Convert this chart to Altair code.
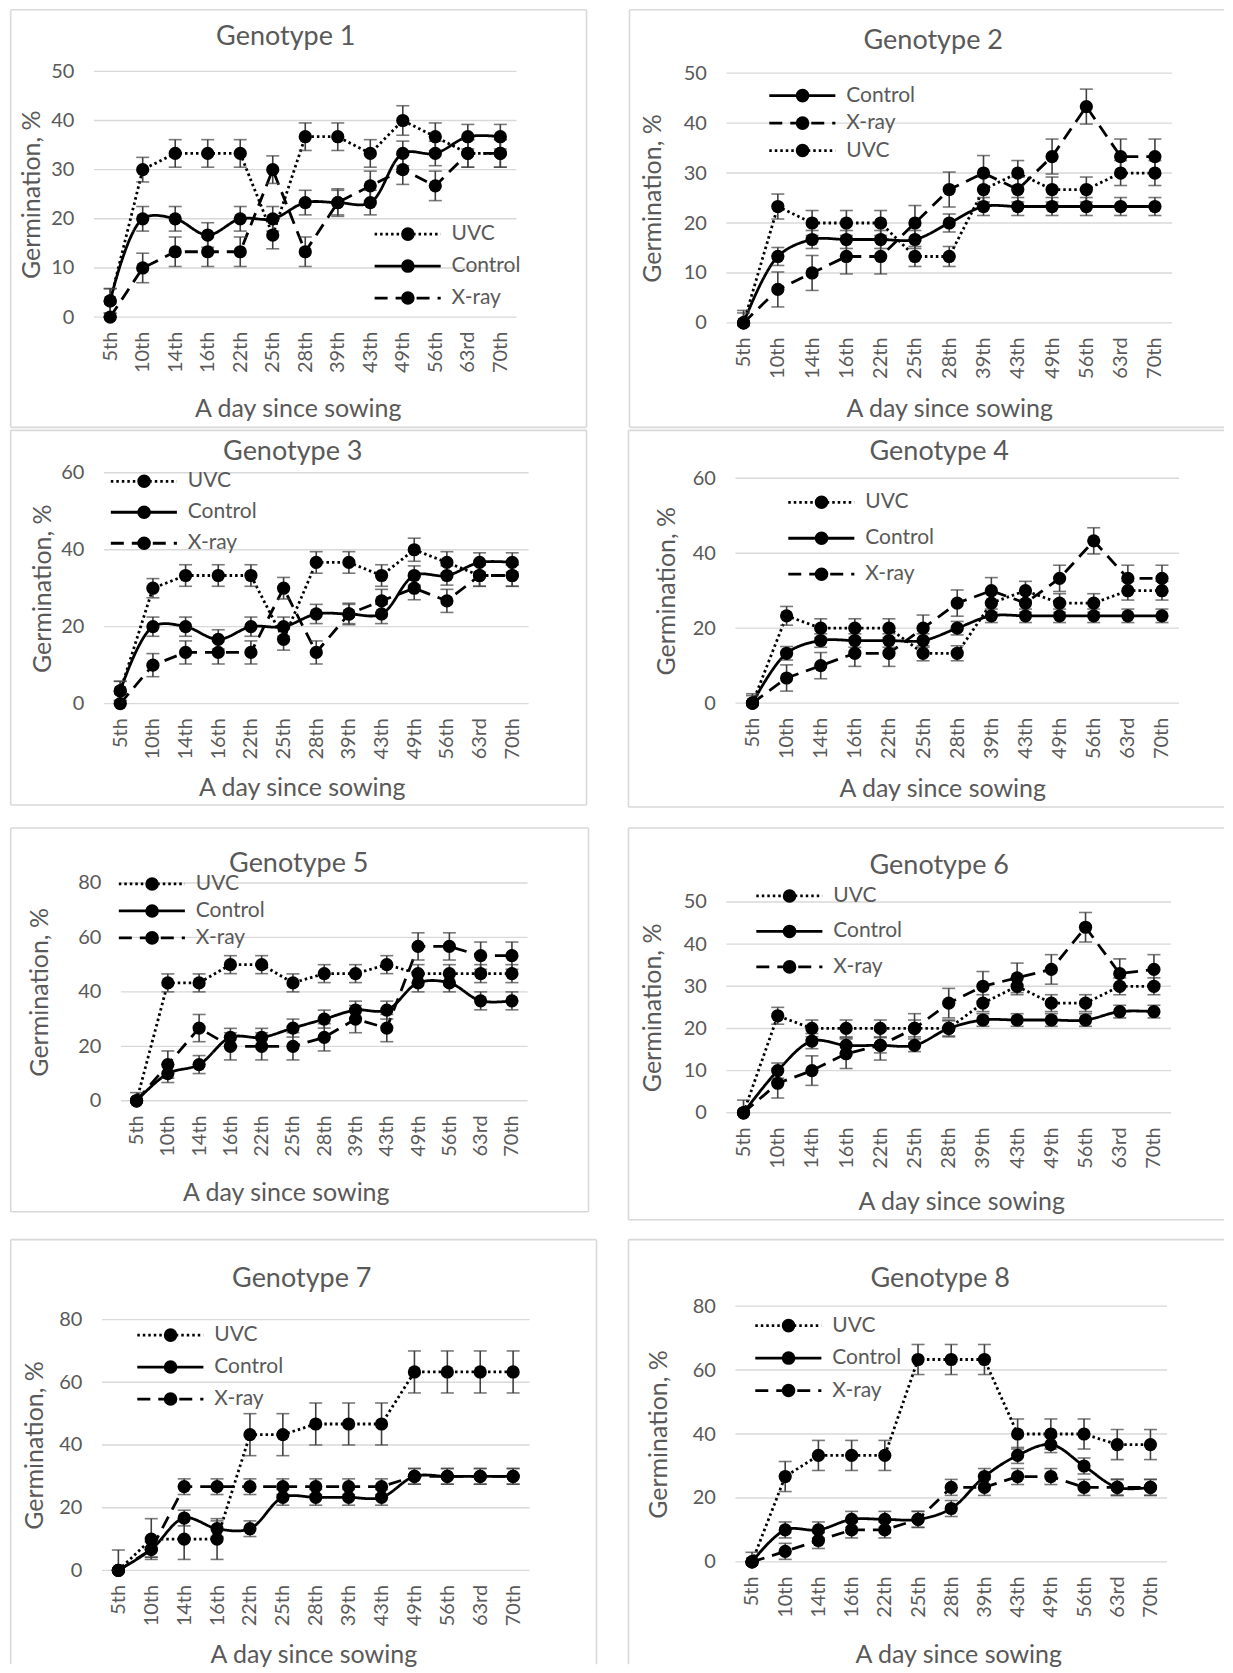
import math
import altair as alt
import pandas as pd

FONT = "Lato"
TXT = "#595959"
GRID = "#d9d9d9"

DAYS = ["5th", "10th", "14th", "16th", "22th", "25th", "28th", "39th", "43th", "49th", "56th", "63rd", "70th"]

# ---- Genotype 1 ----
G1_UVC = [3.3, 30, 33.3, 33.3, 33.3, 16.7, 36.7, 36.7, 33.3, 40, 36.7, 33.3, 33.3]
G1_CONTROL = [3.3, 20, 20, 16.7, 20, 20, 23.3, 23.3, 23.3, 33.3, 33.3, 36.7, 36.7]
G1_XRAY = [0, 10, 13.3, 13.3, 13.3, 30, 13.3, 23.3, 26.7, 30, 26.7, 33.3, 33.3]
G1_ERR_UVC = [2.5, 2.5, 2.8, 2.8, 2.8, 2.8, 2.8, 2.8, 2.8, 3.0, 2.8, 2.8, 2.8]
G1_ERR_CONTROL = [2.5, 2.5, 2.5, 2.5, 2.5, 2.5, 2.5, 2.5, 2.5, 2.5, 2.5, 2.5, 2.5]
G1_ERR_XRAY = [0, 3, 3, 3, 3, 2.8, 3, 2.8, 3, 3, 3, 2.8, 2.8]

# ---- Genotype 2 ----
G2_UVC = [0, 23.3, 20, 20, 20, 13.3, 13.3, 26.7, 30, 26.7, 26.7, 30, 30]
G2_CONTROL = [0, 13.3, 16.7, 16.7, 16.7, 16.7, 20, 23.3, 23.3, 23.3, 23.3, 23.3, 23.3]
G2_XRAY = [0, 6.7, 10, 13.3, 13.3, 20, 26.7, 30, 26.7, 33.3, 43.3, 33.3, 33.3]
G2_ERR_UVC = [2.5, 2.5, 2.5, 2.5, 2.5, 2, 2, 2.5, 2.5, 2.5, 2.5, 2.5, 2.5]
G2_ERR_CONTROL = [2, 1.8, 1.8, 1.8, 1.8, 1.8, 1.8, 1.8, 1.8, 1.8, 1.8, 1.8, 1.8]
G2_ERR_XRAY = [0, 3.5, 3.5, 3.5, 3.5, 3.5, 3.5, 3.5, 2.5, 3.5, 3.5, 3.5, 3.5]

# ---- Genotype 3 ----
G3_UVC = [3.3, 30, 33.3, 33.3, 33.3, 16.7, 36.7, 36.7, 33.3, 40, 36.7, 33.3, 33.3]
G3_CONTROL = [3.3, 20, 20, 16.7, 20, 20, 23.3, 23.3, 23.3, 33.3, 33.3, 36.7, 36.7]
G3_XRAY = [0, 10, 13.3, 13.3, 13.3, 30, 13.3, 23.3, 26.7, 30, 26.7, 33.3, 33.3]
G3_ERR_UVC = [2.5, 2.5, 2.8, 2.8, 2.8, 2.8, 2.8, 2.8, 2.8, 3.0, 2.8, 2.8, 2.8]
G3_ERR_CONTROL = [2.5, 2.5, 2.5, 2.5, 2.5, 2.5, 2.5, 2.5, 2.5, 2.5, 2.5, 2.5, 2.5]
G3_ERR_XRAY = [0, 3, 3, 3, 3, 2.8, 3, 2.8, 3, 3, 3, 2.8, 2.8]

# ---- Genotype 4 ----
G4_UVC = [0, 23.3, 20, 20, 20, 13.3, 13.3, 26.7, 30, 26.7, 26.7, 30, 30]
G4_CONTROL = [0, 13.3, 16.7, 16.7, 16.7, 16.7, 20, 23.3, 23.3, 23.3, 23.3, 23.3, 23.3]
G4_XRAY = [0, 6.7, 10, 13.3, 13.3, 20, 26.7, 30, 26.7, 33.3, 43.3, 33.3, 33.3]
G4_ERR_UVC = [2.5, 2.5, 2.5, 2.5, 2.5, 2, 2, 2.5, 2.5, 2.5, 2.5, 2.5, 2.5]
G4_ERR_CONTROL = [2, 1.8, 1.8, 1.8, 1.8, 1.8, 1.8, 1.8, 1.8, 1.8, 1.8, 1.8, 1.8]
G4_ERR_XRAY = [0, 3.5, 3.5, 3.5, 3.5, 3.5, 3.5, 3.5, 2.5, 3.5, 3.5, 3.5, 3.5]

# ---- Genotype 5 ----
G5_UVC = [0, 43.3, 43.3, 50, 50, 43.3, 46.7, 46.7, 50, 46.7, 46.7, 46.7, 46.7]
G5_CONTROL = [0, 10, 13.3, 23.3, 23.3, 26.7, 30, 33.3, 33.3, 43.3, 43.3, 36.7, 36.7]
G5_XRAY = [0, 13.3, 26.7, 20, 20, 20, 23.3, 30, 26.7, 56.7, 56.7, 53.3, 53.3]
G5_ERR_UVC = [3, 3.3, 3.3, 3.3, 3.3, 3.3, 3.3, 3.3, 3.3, 3.3, 3.3, 3.3, 3.3]
G5_ERR_CONTROL = [0, 3.3, 3.3, 3.3, 3.3, 3.3, 3.3, 3.3, 3.3, 3.3, 3.3, 3.3, 3.3]
G5_ERR_XRAY = [0, 5, 5, 5, 5, 5, 5, 5, 5, 5, 5, 5, 5]

# ---- Genotype 6 ----
G6_UVC = [0, 23, 20, 20, 20, 20, 20, 26, 30, 26, 26, 30, 30]
G6_CONTROL = [0, 10, 17, 16, 16, 16, 20, 22, 22, 22, 22, 24, 24]
G6_XRAY = [0, 7, 10, 14, 16, 20, 26, 30, 32, 34, 44, 33, 34]
G6_ERR_UVC = [3, 2, 2, 2, 2, 2, 2, 2, 2, 2, 2, 2, 2]
G6_ERR_CONTROL = [0, 1.8, 1.8, 1.8, 1.8, 1.5, 1.8, 1.5, 1.5, 1.5, 1.5, 1.5, 1.5]
G6_ERR_XRAY = [0, 3.5, 3.5, 3.5, 3.5, 3.5, 3.5, 3.5, 3.5, 3.5, 3.5, 3.5, 3.5]

# ---- Genotype 7 ----
G7_UVC = [0, 10, 10, 10, 43.3, 43.3, 46.7, 46.7, 46.7, 63.3, 63.3, 63.3, 63.3]
G7_CONTROL = [0, 6.7, 16.7, 13.3, 13.3, 23.3, 23.3, 23.3, 23.3, 30, 30, 30, 30]
G7_XRAY = [0, 6.7, 26.7, 26.7, 26.7, 26.7, 26.7, 26.7, 26.7, 30, 30, 30, 30]
G7_ERR_UVC = [6.5, 6.5, 6.5, 6.5, 6.7, 6.7, 6.7, 6.7, 6.7, 6.7, 6.7, 6.7, 6.7]
G7_ERR_CONTROL = [0, 2.5, 2.5, 2.5, 2.5, 2.5, 2.5, 2.5, 2.5, 2.5, 2.5, 2.5, 2.5]
G7_ERR_XRAY = [0, 2.5, 2.5, 2.5, 2.5, 2.5, 2.5, 2.5, 2.5, 2.5, 2.5, 2.5, 2.5]

# ---- Genotype 8 ----
G8_UVC = [0, 26.7, 33.3, 33.3, 33.3, 63.3, 63.3, 63.3, 40, 40, 40, 36.7, 36.7]
G8_CONTROL = [0, 10, 10, 13.3, 13.3, 13.3, 16.7, 26.7, 33.3, 36.7, 30, 23.3, 23.3]
G8_XRAY = [0, 3.3, 6.7, 10, 10, 13.3, 23.3, 23.3, 26.7, 26.7, 23.3, 23.3, 23.3]
G8_ERR_UVC = [3, 4.7, 4.7, 4.7, 4.7, 4.7, 4.7, 4.7, 4.7, 4.7, 4.7, 4.7, 4.7]
G8_ERR_CONTROL = [0, 2.5, 2.5, 2.5, 2.5, 2.5, 2.5, 2.5, 2.5, 2.5, 2.5, 2.5, 2.5]
G8_ERR_XRAY = [0, 2.5, 2.5, 2.5, 2.5, 2.5, 2.5, 2.5, 2.5, 2.5, 2.5, 2.5, 2.5]

# y-axis tick labels per panel
TICKS_50_10 = [0, 10, 20, 30, 40, 50]
TICKS_60_20 = [0, 20, 40, 60]
TICKS_80_20 = [0, 20, 40, 60, 80]

ORDER_A = ["UVC", "Control", "X-ray"]
ORDER_B = ["Control", "X-ray", "UVC"]

PANELS = [
    dict(name="Genotype 1", uvc=G1_UVC, ctrl=G1_CONTROL, xray=G1_XRAY,
         eu=G1_ERR_UVC, ec=G1_ERR_CONTROL, ex=G1_ERR_XRAY, ticks=TICKS_50_10, order=ORDER_A),
    dict(name="Genotype 2", uvc=G2_UVC, ctrl=G2_CONTROL, xray=G2_XRAY,
         eu=G2_ERR_UVC, ec=G2_ERR_CONTROL, ex=G2_ERR_XRAY, ticks=TICKS_50_10, order=ORDER_B),
    dict(name="Genotype 3", uvc=G3_UVC, ctrl=G3_CONTROL, xray=G3_XRAY,
         eu=G3_ERR_UVC, ec=G3_ERR_CONTROL, ex=G3_ERR_XRAY, ticks=TICKS_60_20, order=ORDER_A),
    dict(name="Genotype 4", uvc=G4_UVC, ctrl=G4_CONTROL, xray=G4_XRAY,
         eu=G4_ERR_UVC, ec=G4_ERR_CONTROL, ex=G4_ERR_XRAY, ticks=TICKS_60_20, order=ORDER_A),
    dict(name="Genotype 5", uvc=G5_UVC, ctrl=G5_CONTROL, xray=G5_XRAY,
         eu=G5_ERR_UVC, ec=G5_ERR_CONTROL, ex=G5_ERR_XRAY, ticks=TICKS_80_20, order=ORDER_A),
    dict(name="Genotype 6", uvc=G6_UVC, ctrl=G6_CONTROL, xray=G6_XRAY,
         eu=G6_ERR_UVC, ec=G6_ERR_CONTROL, ex=G6_ERR_XRAY, ticks=TICKS_50_10, order=ORDER_A),
    dict(name="Genotype 7", uvc=G7_UVC, ctrl=G7_CONTROL, xray=G7_XRAY,
         eu=G7_ERR_UVC, ec=G7_ERR_CONTROL, ex=G7_ERR_XRAY, ticks=TICKS_80_20, order=ORDER_A),
    dict(name="Genotype 8", uvc=G8_UVC, ctrl=G8_CONTROL, xray=G8_XRAY,
         eu=G8_ERR_UVC, ec=G8_ERR_CONTROL, ex=G8_ERR_XRAY, ticks=TICKS_80_20, order=ORDER_A),
]

# ---- layout (page pixels) ----
COL_X = [8, 608, 1225]             # cell column edges
ROW_Y = [8, 428, 817, 1230, 1665]  # cell row edges
# plot=(left, top, w, h); frame=(x1, y1, x2, y2, sides drawn); title=(x, y); ytx: y-title centre x;
# xt=(x, y) x-title centre; leg=(dot x, first-row y, row spacing)
LAYOUT = [
    dict(plot=(94, 70.7, 423, 246), frame=(10.7, 9, 587, 427, "tlbr"), title=(286, 36.7), ytx=32,
         xt=(298, 408.5), leg=(405, 233.6, 31)),
    dict(plot=(727, 72.5, 446, 250), frame=(630, 9, 1225, 427, "tlb"), title=(934, 40.5), ytx=653,
         xt=(950, 408.5), leg=(800, 95, 26.5)),
    dict(plot=(104, 472.5, 425, 231), frame=(10.7, 430, 587, 805, "tlbr"), title=(293, 452), ytx=42.7,
         xt=(302, 787), leg=(141, 481, 30)),
    dict(plot=(736, 478, 444, 225), frame=(629, 430, 1225, 807, "tlb"), title=(940, 452), ytx=666.6,
         xt=(943, 788), leg=(819, 502, 35)),
    dict(plot=(121, 883, 407, 218), frame=(10.7, 828, 589, 1212, "tlbr"), title=(299, 864), ytx=39.5,
         xt=(286, 1192.5), leg=(149, 884, 26)),
    dict(plot=(727, 902, 445, 211), frame=(629, 828, 1225, 1220, "tlb"), title=(940, 866), ytx=653,
         xt=(962, 1202), leg=(787, 896, 34.5)),
    dict(plot=(102, 1320, 428, 251), frame=(10.7, 1240, 597, 1665, "tlr"), title=(302, 1279), ytx=35,
         xt=(313.6, 1655), leg=(167.5, 1335.5, 31)),
    dict(plot=(736, 1306.5, 432, 256), frame=(629, 1240, 1225, 1665, "tl"), title=(941, 1279), ytx=659,
         xt=(959, 1655), leg=(786, 1326, 31.5)),
]

DASH = {"UVC": [2.5, 3], "Control": [1, 0], "X-ray": [13, 8]}

LINE_SIZE = 150
DOT_SIZE = 185
LEG_SW = 2.8
DOT_SW = 1.0
LABEL_FS = 21
LABEL_GAP = 41
LEGEND_LINE = "M -5.4 0 L 5.4 0"


def make_panel(idx, p, lay):
    col, row = idx % 2, idx // 2
    ox, oy = COL_X[col], ROW_Y[row]
    cw, ch = COL_X[col + 1] - COL_X[col], ROW_Y[row + 1] - ROW_Y[row]
    pl, pt, w, h = lay["plot"]
    L, T = pl - ox, pt - oy

    rows = []
    for s, vals, errs in (("UVC", p["uvc"], p["eu"]), ("Control", p["ctrl"], p["ec"]), ("X-ray", p["xray"], p["ex"])):
        for d, v, e in zip(DAYS, vals, errs):
            rows.append(dict(day=d, series=s, dot=s, value=v, lo=max(v - e, 0), hi=v + e))
    df = pd.DataFrame(rows)
    ymax = p["ticks"][-1]

    xt_x, xt_y = lay["xt"]
    xaxis = alt.Axis(
        labelAngle=270, labelAlign="right", labelBaseline="middle", labelPadding=14,
        labelFont=FONT, labelFontSize=20, labelColor=TXT, domain=False, ticks=False, grid=False,
        offset=-(ch - (T + h)),
        title="A day since sowing", titleFont=FONT, titleFontSize=25, titleFontWeight="normal",
        titleColor=TXT, titleX=xt_x - ox, titleY=xt_y - (pt + h), titleBaseline="middle", titleAlign="center",
    )
    xenc = alt.X("day:N", sort=DAYS, scale=alt.Scale(type="point", padding=0.5, range=[L, L + w]), axis=xaxis)
    yscale = alt.Scale(domain=[0, ymax], nice=False, zero=True, range=[T + h, T])
    yaxis = alt.Axis(
        values=p["ticks"], grid=False, domain=False, ticks=False, offset=-L,
        labelFont=FONT, labelFontSize=20, labelColor=TXT, labelPadding=20,
        title="Germination, %", titleFont=FONT, titleFontSize=25, titleFontWeight="normal",
        titleColor=TXT, titleX=lay["ytx"] - pl, titleY=T + h / 2, titleBaseline="middle", titleAlign="center",
        titleAngle=270,
    )
    yenc = alt.Y("value:Q", scale=yscale, axis=yaxis)

    lx, ly, sp = lay["leg"]
    common = dict(
        title=None, orient="none", labelFont=FONT, labelFontSize=LABEL_FS, labelLimit=0,
        rowPadding=sp - LABEL_FS, padding=0,
    )
    cx_line = (math.sqrt(LINE_SIZE) + LEG_SW) / 2
    cx_dot = (math.sqrt(DOT_SIZE) + DOT_SW) / 2
    legend_line = alt.Legend(
        legendX=lx - ox - cx_line, legendY=ly - oy - LABEL_FS / 2,
        symbolType=LEGEND_LINE, symbolSize=LINE_SIZE, symbolStrokeWidth=LEG_SW, symbolStrokeColor="black",
        labelColor=TXT, labelOffset=LABEL_GAP - cx_line, **common,
    )
    legend_dot = alt.Legend(
        legendX=lx - ox - cx_dot, legendY=ly - oy - LABEL_FS / 2,
        symbolType="circle", symbolSize=DOT_SIZE, symbolStrokeWidth=DOT_SW, symbolStrokeColor="black",
        symbolFillColor="black", symbolOpacity=1, labelOpacity=0, labelColor="white",
        labelOffset=LABEL_GAP - cx_dot, **common,
    )
    dash = alt.StrokeDash(
        "series:N",
        scale=alt.Scale(domain=p["order"], range=[DASH[s] for s in p["order"]]),
        legend=legend_line,
    )
    shape = alt.Shape(
        "dot:N", sort=p["order"],
        scale=alt.Scale(range=["circle", "circle", "circle"]),
        legend=legend_dot,
    )

    base = alt.Chart(df)

    # chart-area border (light grey), drawn side by side
    fx1, fy1, fx2, fy2, sides = lay["frame"]
    x1, x2, y1, y2 = fx1 - ox, fx2 - ox, fy1 - oy, fy2 - oy
    one = alt.Data(values=[{}])
    frame_layers = []
    if "t" in sides:
        frame_layers.append(alt.Chart(one).mark_rule(color=GRID, strokeWidth=1.6).encode(
            x=alt.value(x1), x2=alt.value(x2), y=alt.value(y1)))
    if "b" in sides:
        frame_layers.append(alt.Chart(one).mark_rule(color=GRID, strokeWidth=1.6).encode(
            x=alt.value(x1), x2=alt.value(x2), y=alt.value(y2)))
    if "l" in sides:
        frame_layers.append(alt.Chart(one).mark_rule(color=GRID, strokeWidth=1.6).encode(
            x=alt.value(x1), y=alt.value(y1), y2=alt.value(y2)))
    if "r" in sides:
        frame_layers.append(alt.Chart(one).mark_rule(color=GRID, strokeWidth=1.6).encode(
            x=alt.value(x2), y=alt.value(y1), y2=alt.value(y2)))

    grid = alt.Chart(alt.Data(values=[{"v": t} for t in p["ticks"]])).mark_rule(
        color=GRID, strokeWidth=1.4
    ).encode(y=alt.Y("v:Q", scale=yscale, axis=yaxis), x=alt.value(L), x2=alt.value(L + w))

    tx, ty = lay["title"]
    title = alt.Chart(alt.Data(values=[{"label": p["name"]}])).mark_text(
        font=FONT, fontSize=27, color=TXT, align="center", baseline="middle"
    ).encode(text="label:N", x=alt.value(tx - ox), y=alt.value(ty - oy))

    line_ctrl = base.transform_filter("datum.series == 'Control'").mark_line(
        color="black", strokeWidth=2.8, interpolate="catmull-rom"
    ).encode(x=xenc, y=yenc, strokeDash=dash)
    line_other = base.transform_filter("datum.series != 'Control'").mark_line(
        color="black", strokeWidth=2.8
    ).encode(x=xenc, y=yenc, strokeDash=dash)

    err = base.mark_rule(color="#404040", strokeWidth=1.6).encode(
        x=xenc, y=alt.Y("lo:Q", scale=yscale, axis=yaxis), y2="hi:Q"
    )
    cap_lo = base.mark_tick(color="#404040", size=13, thickness=1.6, orient="horizontal").encode(
        x=xenc, y=alt.Y("lo:Q", scale=yscale, axis=yaxis)
    )
    cap_hi = base.mark_tick(color="#404040", size=13, thickness=1.6, orient="horizontal").encode(
        x=xenc, y=alt.Y("hi:Q", scale=yscale, axis=yaxis)
    )
    pts = base.mark_point(filled=True, color="black", size=175, opacity=1).encode(
        x=xenc, y=yenc, shape=shape
    )

    return alt.layer(*frame_layers, grid, title, line_ctrl, line_other, err, cap_lo, cap_hi, pts).properties(
        width=cw, height=ch
    )


charts = [make_panel(i, p, l) for i, (p, l) in enumerate(zip(PANELS, LAYOUT))]


def res(c):
    return c.resolve_scale(
        x="independent", y="independent", strokeDash="independent", shape="independent"
    ).resolve_legend(strokeDash="independent", shape="independent")


rows = [res(alt.hconcat(charts[2 * r], charts[2 * r + 1], spacing=0)) for r in range(4)]
chart = res(alt.vconcat(*rows, spacing=0)).properties(
    padding=0, background="white"
).configure_view(stroke=None)

chart.save("out.html", embed_options={"renderer": "svg", "actions": False})
